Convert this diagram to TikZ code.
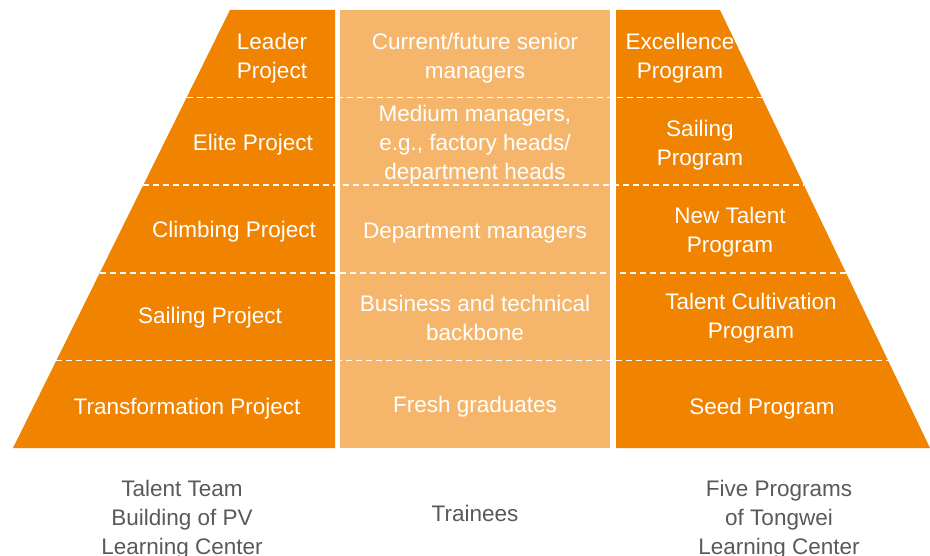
\documentclass[tikz,border=0pt]{standalone}
\usepackage{fontspec}
\setmainfont{Liberation Sans}
\definecolor{org}{HTML}{F08300}
\definecolor{lorg}{HTML}{F5B66C}
\definecolor{txtgray}{HTML}{595959}
\begin{document}
\begin{tikzpicture}[x=1pt,y=-1pt,
  lbl/.style={text=white,align=center,inner sep=0pt,yshift=-3pt,font=\fontsize{22.5}{29}\selectfont},
  foot/.style={text=txtgray,align=center,inner sep=0pt,font=\fontsize{22.5}{29}\selectfont},
  sep/.style={draw=white,line width=1.5pt,dash pattern=on 6pt off 4pt}]
\useasboundingbox (0,0) rectangle (930,556);
% corners
\coordinate (LTL) at (230,10); \coordinate (LBL) at (13,448);
\coordinate (LTR) at (335,10); \coordinate (LBR) at (335,448);
\coordinate (MTL) at (340,10); \coordinate (MBR) at (610,448);
\coordinate (RTL) at (616,10); \coordinate (RBL) at (616,448);
\coordinate (RTR) at (720,10); \coordinate (RBR) at (930,448);
\fill[org] (LTL) -- (LTR) -- (LBR) -- (LBL) -- cycle;
\fill[lorg] (MTL) rectangle (MBR);
\fill[org] (RTL) -- (RTR) -- (RBR) -- (RBL) -- cycle;
% separators
\coordinate (s1a) at (186.6,97.6); \coordinate (s1b) at (762.0,97.6);
\coordinate (s2a) at (143.2,185.2); \coordinate (s2b) at (804.0,185.2);
\coordinate (s3a) at (99.8,272.8); \coordinate (s3b) at (846.0,272.8);
\coordinate (s4a) at (56.4,360.4); \coordinate (s4b) at (888.0,360.4);
\draw[sep] (s1a) -- (s1b);
\draw[sep] (s2a) -- (s2b);
\draw[sep] (s3a) -- (s3b);
\draw[sep] (s4a) -- (s4b);
% left labels
\node[lbl] (l1) at (272,55) {Leader\\Project};
\node[lbl] (l2) at (253,142) {Elite Project};
\node[lbl] (l3) at (234,229) {Climbing Project};
\node[lbl] (l4) at (210,315) {Sailing Project};
\node[lbl] (l5) at (187,406) {Transformation Project};
% middle labels
\node[lbl] (m1) at (475,55) {Current/future senior\\managers};
\node[lbl] (m2) at (475,142) {Medium managers,\\e.g., factory heads/\\department heads};
\node[lbl] (m3) at (475,230) {Department managers};
\node[lbl] (m4) at (475,315) {Business and technical\\backbone};
\node[lbl] (m5) at (475,404) {Fresh graduates};
% right labels
\node[lbl] (r1) at (680,55) {Excellence\\Program};
\node[lbl] (r2) at (700,142) {Sailing\\Program};
\node[lbl] (r3) at (730,229) {New Talent\\Program};
\node[lbl] (r4) at (751,315) {Talent Cultivation\\Program};
\node[lbl] (r5) at (762,406) {Seed Program};
% footers
\node[foot,anchor=north] (f1) at (182,480) {Talent Team\\Building of PV\\Learning Center};
\node[foot] (f2) at (475,513) {Trainees};
\node[foot,anchor=north] (f3) at (779,480) {Five Programs\\of Tongwei\\Learning Center};
\end{tikzpicture}
\end{document}
